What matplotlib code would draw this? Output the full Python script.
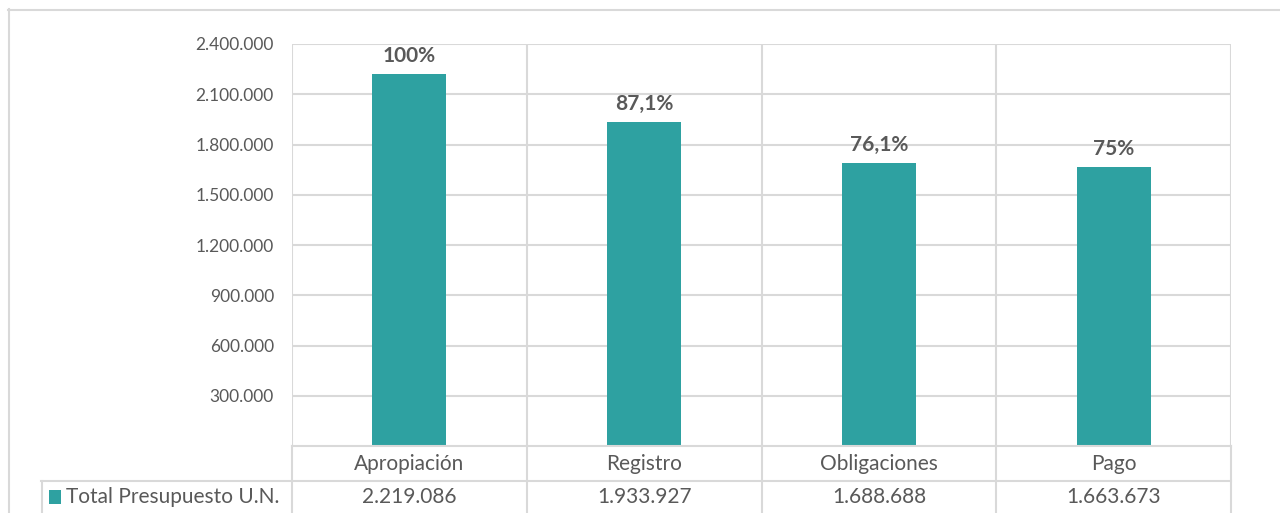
import matplotlib
matplotlib.use("Agg")
import matplotlib.pyplot as plt
from matplotlib.patches import Rectangle
from matplotlib.lines import Line2D

categories = ["Apropiación", "Registro", "Obligaciones", "Pago"]
values = [2219086, 1933927, 1688688, 1663673]
value_labels = ["2.219.086", "1.933.927", "1.688.688", "1.663.673"]
pct_labels = ["100%", "87,1%", "76,1%", "75%"]
series_name = "Total Presupuesto U.N."
yticks = [300000, 600000, 900000, 1200000, 1500000, 1800000, 2100000, 2400000]

BAR = "#2EA1A1"
GRID = "#D9D9D9"
TXT = "#595959"
FONT = ["Lato", "DejaVu Sans"]
plt.rcParams["font.family"] = FONT

W, H = 1280, 513
fig = plt.figure(figsize=(W / 100, H / 100), dpi=100)

def fx(px):
    return px / W

def fy(py):
    return 1 - py / H

# outer chart border
fig.add_artist(Line2D([fx(8), fx(1290)], [fy(9.5), fy(9.5)], color=GRID, lw=1.5))
fig.add_artist(Line2D([fx(8.5), fx(8.5)], [fy(9), fy(520)], color=GRID, lw=1.5))

left, right, top, bottom = 292, 1231, 44, 446
ax = fig.add_axes([fx(left), fy(bottom), fx(right) - fx(left), fy(top) - fy(bottom)])
ax.set_xlim(-0.5, 3.5)
ax.set_ylim(0, 2400000)
for s in ax.spines.values():
    s.set_visible(False)
ax.set_xticks([])
ax.set_yticks(yticks)
ax.set_yticklabels([f"{v:,}".replace(",", ".") for v in yticks])
ax.tick_params(axis="y", length=0, pad=13, labelsize=12.5, labelcolor=TXT)

for v in yticks:
    ax.axhline(v, color=GRID, lw=1.5, zorder=0)
for b in [-0.5, 0.5, 1.5, 2.5, 3.5]:
    ax.axvline(b, color=GRID, lw=1.5, zorder=0)

x = list(range(len(categories)))
ax.bar(x, values, width=0.315, color=BAR, zorder=2)
for xi, v, lab in zip(x, values, pct_labels):
    ax.annotate(lab, (xi, v), xytext=(0, 8.6), textcoords="offset points",
                ha="center", va="baseline", fontsize=15, fontweight="bold", color=TXT)

# data table
tr = ax.get_xaxis_transform()
row1_bot = 481
ax.add_artist(Line2D([-0.5, 3.5], [0, 0], transform=tr, color=GRID, lw=1.5, clip_on=False))
ylow = (fy(520) - fy(bottom)) / (fy(top) - fy(bottom))
for b in [-0.5, 0.5, 1.5, 2.5, 3.5]:
    ax.add_artist(Line2D([b, b], [0, ylow], transform=tr, color=GRID, lw=1.5, clip_on=False))
fig.add_artist(Line2D([fx(41), fx(right)], [fy(row1_bot), fy(row1_bot)], color=GRID, lw=1.5))
fig.add_artist(Line2D([fx(41.5), fx(41.5)], [fy(row1_bot), fy(520)], color=GRID, lw=1.5))

for xi, c, vl in zip(x, categories, value_labels):
    cx = fx(left + (xi + 0.5) * (right - left) / 4)
    fig.text(cx, fy(464), c, ha="center", va="center", fontsize=15, color=TXT)
    fig.text(cx, fy(497), vl, ha="center", va="center", fontsize=15, color=TXT)

fig.add_artist(Rectangle((fx(49), fy(504)), fx(12), fy(490) - fy(504), color=BAR, lw=0))
fig.text(fx(66), fy(497), series_name, ha="left", va="center", fontsize=15, color=TXT)

fig.savefig("out.png", dpi=100)
